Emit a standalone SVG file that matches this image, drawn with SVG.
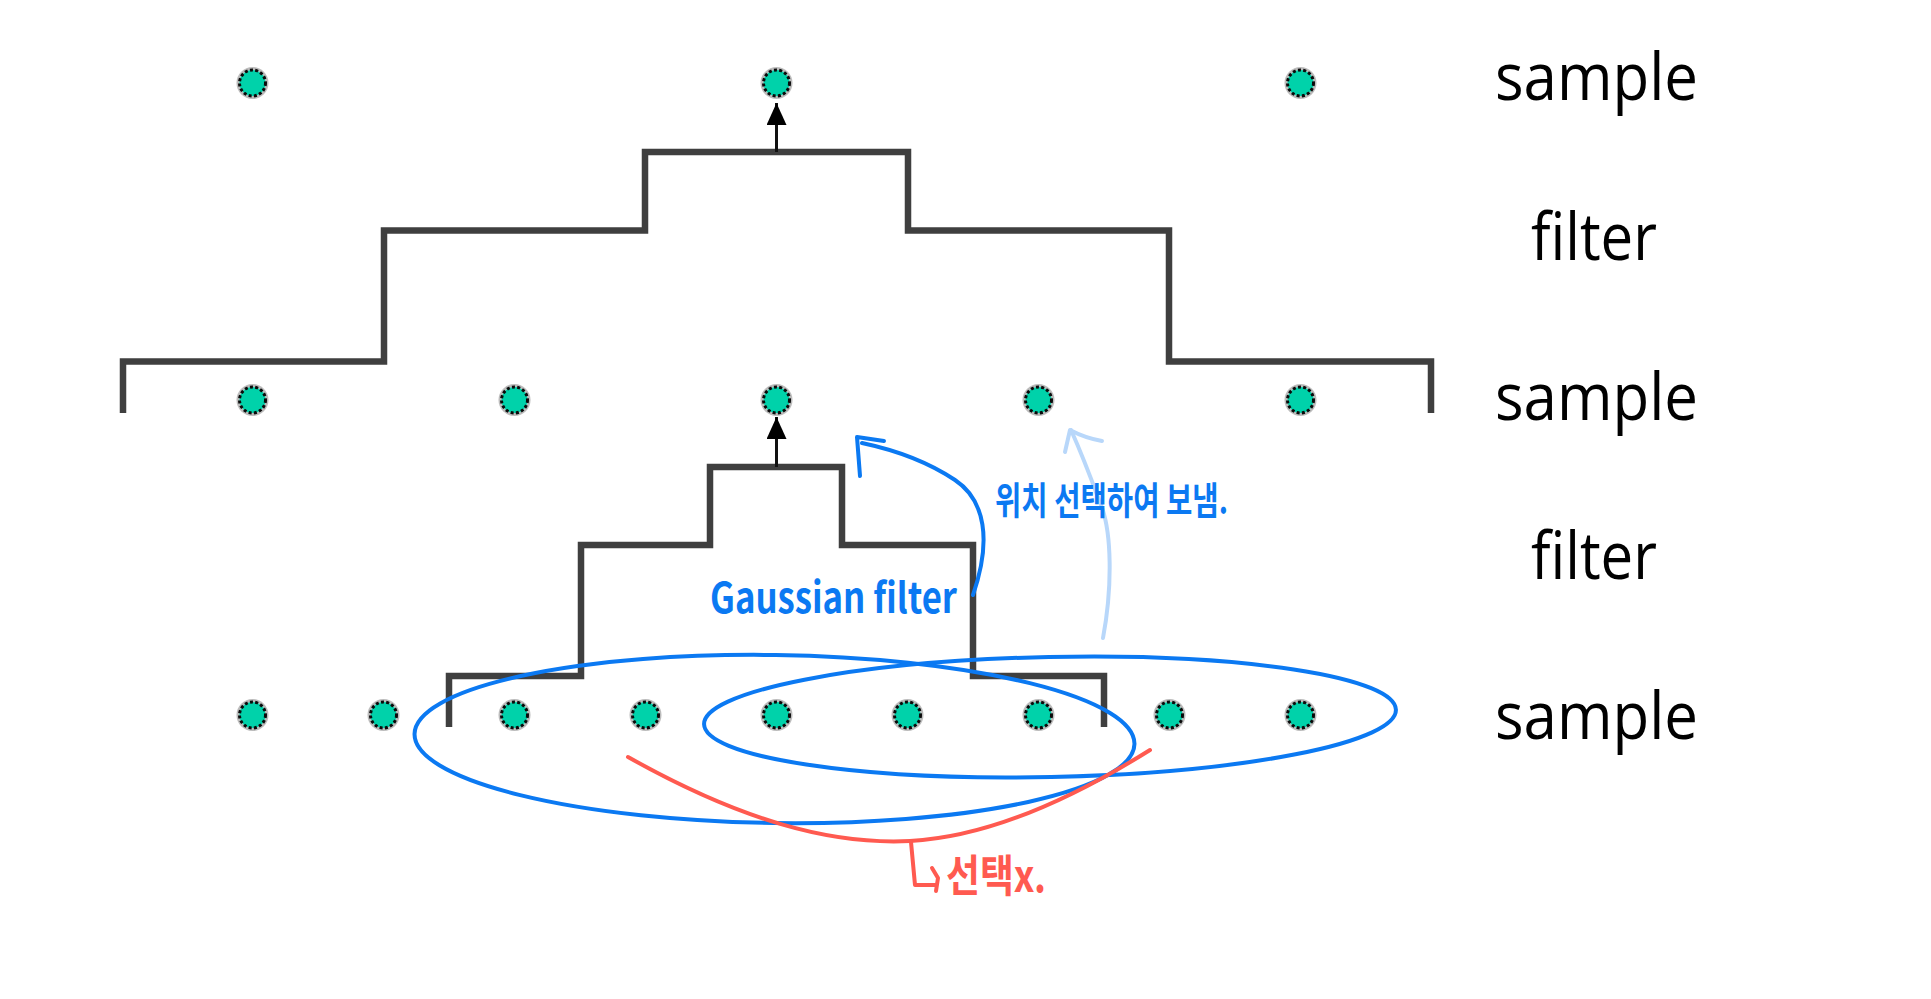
<svg xmlns="http://www.w3.org/2000/svg" xmlns:xlink="http://www.w3.org/1999/xlink" width="1931" height="999" viewBox="0 0 1931 999">
<style>
.stair{fill:none;stroke:#3f3f3f;stroke-width:6.5;stroke-linejoin:miter;stroke-linecap:butt}
.stem{stroke:#111;stroke-width:3;fill:none}
.label{font-family:"Open Sans","Noto Sans",sans-serif;font-size:66px;fill:#000;text-anchor:middle}
.blue{fill:none;stroke:#0b79f2;stroke-width:4;stroke-linecap:round;stroke-linejoin:round}
.lblue{fill:none;stroke:#b8d7fa;stroke-width:4;stroke-linecap:round;stroke-linejoin:round}
.red{fill:none;stroke:#ff5a50;stroke-width:4;stroke-linecap:round;stroke-linejoin:round}
.hand-blue{font-family:"Noto Sans CJK KR","Open Sans",sans-serif;font-weight:700;fill:#0b79f2}
.hand-red{font-family:"Noto Sans CJK KR","Open Sans",sans-serif;font-weight:700;fill:#ff5a50}
</style>
<defs>
<g id="dot">
<circle r="16" fill="#8f8f8f" opacity="0.6"/>
<circle r="13" fill="#00d2aa" stroke="#0a0a0a" stroke-width="3" stroke-dasharray="3 2.3"/>
</g>
<marker id="arrowBlack" viewBox="0 0 22 20" refX="22" refY="10" markerWidth="22" markerHeight="20" markerUnits="userSpaceOnUse" orient="auto">
<path d="M0,0 L22,10 L0,20 z" fill="#000"/>
</marker>
</defs>
<rect width="1931" height="999" fill="#fff"/>

<g id="filter-top">
<path class="stair" d="M123,413 V361.5 H384 V230.5 H645 V152 H908 V230.5 H1169 V361.5 H1431 V413"/>
</g>
<g id="filter-bottom">
<path class="stair" d="M449,727 V676 H581 V545 H710 V467 H842 V545 H973 V676 H1104 V727"/>
</g>

<g id="samples-row1">
<g id="s1-1"><use xlink:href="#dot" x="252.5" y="83"/></g>
<g id="s1-2"><use xlink:href="#dot" x="776.5" y="83"/></g>
<g id="s1-3"><use xlink:href="#dot" x="1300.5" y="83"/></g>
</g>
<g id="samples-row2">
<g id="s2-1"><use xlink:href="#dot" x="252.5" y="400"/></g>
<g id="s2-2"><use xlink:href="#dot" x="514.5" y="400"/></g>
<g id="s2-3"><use xlink:href="#dot" x="776.5" y="400"/></g>
<g id="s2-4"><use xlink:href="#dot" x="1038.5" y="400"/></g>
<g id="s2-5"><use xlink:href="#dot" x="1300.5" y="400"/></g>
</g>
<g id="samples-row3">
<g id="s3-1"><use xlink:href="#dot" x="252.5" y="715"/></g>
<g id="s3-2"><use xlink:href="#dot" x="383.5" y="715"/></g>
<g id="s3-3"><use xlink:href="#dot" x="514.5" y="715"/></g>
<g id="s3-4"><use xlink:href="#dot" x="645.5" y="715"/></g>
<g id="s3-5"><use xlink:href="#dot" x="776.5" y="715"/></g>
<g id="s3-6"><use xlink:href="#dot" x="907.5" y="715"/></g>
<g id="s3-7"><use xlink:href="#dot" x="1038.5" y="715"/></g>
<g id="s3-8"><use xlink:href="#dot" x="1169.5" y="715"/></g>
<g id="s3-9"><use xlink:href="#dot" x="1300.5" y="715"/></g>
</g>

<g id="labels">
<text class="label" x="1596.5" y="100" textLength="203" lengthAdjust="spacingAndGlyphs">sample</text>
<text class="label" x="1594" y="260" textLength="126" lengthAdjust="spacingAndGlyphs">filter</text>
<text class="label" x="1596.5" y="419.5" textLength="203" lengthAdjust="spacingAndGlyphs">sample</text>
<text class="label" x="1594" y="579" textLength="126" lengthAdjust="spacingAndGlyphs">filter</text>
<text class="label" x="1596.5" y="738.5" textLength="203" lengthAdjust="spacingAndGlyphs">sample</text>
</g>

<g id="windows">
<ellipse class="blue" cx="774.5" cy="739" rx="360" ry="84" transform="rotate(0.8 774.5 739)"/>
<ellipse class="blue" cx="1050" cy="717" rx="346" ry="60" transform="rotate(-1.2 1050 717)"/>
</g>

<g id="connectors">
<line class="stem" x1="776.5" y1="152" x2="776.5" y2="103" marker-end="url(#arrowBlack)"/>
<line class="stem" x1="776.5" y1="467" x2="776.5" y2="417" marker-end="url(#arrowBlack)"/>
<path class="blue" stroke-width="4.5" d="M973,595 C992,540 985,500 955,480 C925,460 895,450 862,443"/>
<path class="blue" stroke-width="4.5" d="M860,476 L857,437 L884,441"/>
<path class="lblue" d="M1103,638 C1112,590 1113,530 1099,500 C1088,470 1080,450 1071,430"/>
<path class="lblue" d="M1065,452 L1070,430 Q1085,438 1102,441"/>
<path class="red" d="M628,757 C740,820 830,845 910,841 C990,837 1075,797 1150,750"/>
<path class="red" d="M911,842 L915,885 H937 M932,868 L938,878 L936,891"/>
</g>

<g id="notes">
<text class="hand-blue" x="710" y="613" font-size="42" textLength="247" lengthAdjust="spacingAndGlyphs">Gaussian filter</text>
<text class="hand-blue" x="995" y="514" font-size="38" textLength="233" lengthAdjust="spacingAndGlyphs">위치 선택하여 보냄.</text>
<text class="hand-red" x="946" y="892" font-size="44" textLength="100" lengthAdjust="spacingAndGlyphs">선택x.</text>
</g>
</svg>
